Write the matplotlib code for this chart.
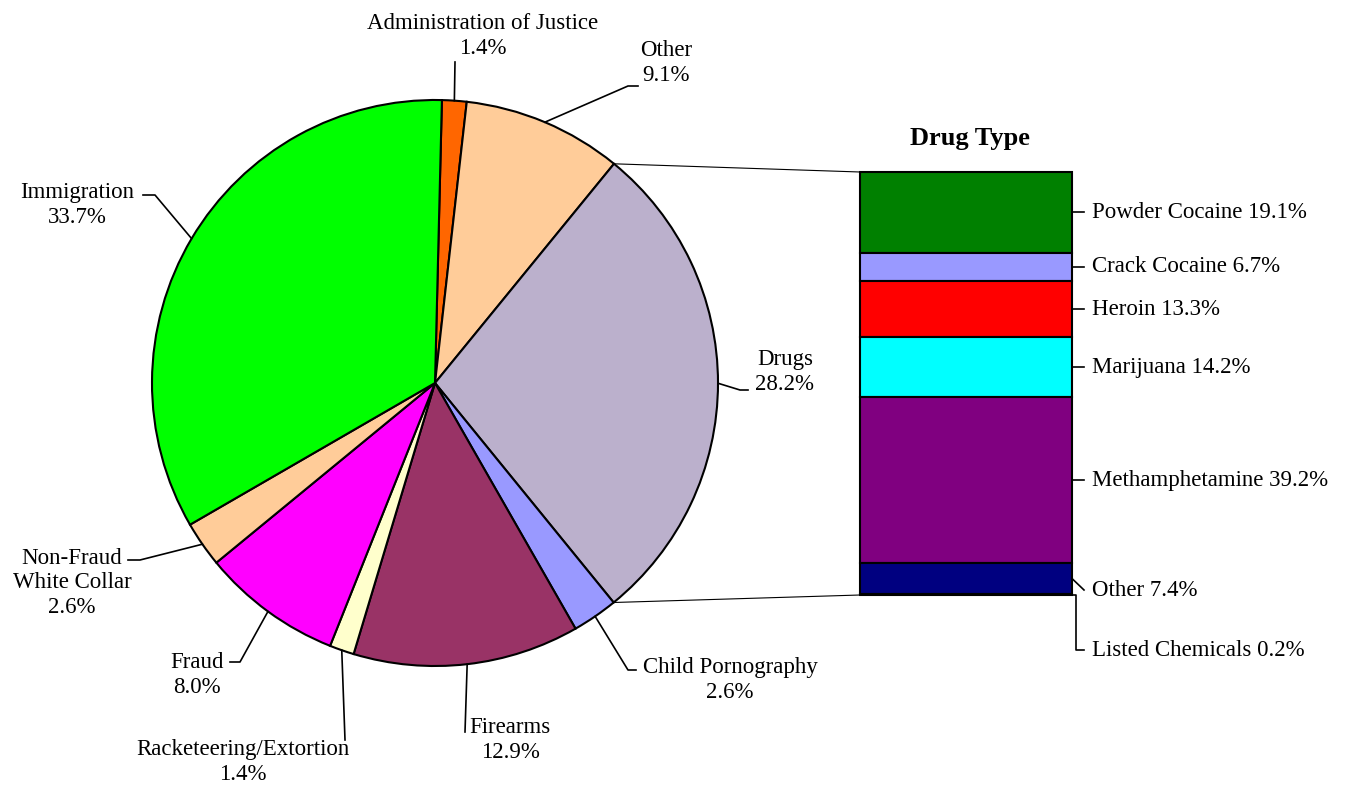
import numpy as np
import matplotlib.pyplot as plt

plt.rcParams['font.family'] = ['Liberation Serif', 'DejaVu Serif']

# offense categories, clockwise from the top
offenses = ['Administration of Justice', 'Other', 'Drugs', 'Child Pornography', 'Firearms',
            'Racketeering/Extortion', 'Fraud', 'Non-Fraud\nWhite Collar', 'Immigration']
offense_pct = [1.4, 9.1, 28.2, 2.6, 12.9, 1.4, 8.0, 2.6, 33.7]
offense_colors = ['#FF6600', '#FFCC99', '#BBB0CC', '#9999FF', '#993366',
                  '#FFFFCC', '#FF00FF', '#FFCC99', '#00FF00']

# drug types, top to bottom
drugs = ['Powder Cocaine', 'Crack Cocaine', 'Heroin', 'Marijuana', 'Methamphetamine',
         'Other', 'Listed Chemicals']
drug_pct = [19.1, 6.7, 13.3, 14.2, 39.2, 7.4, 0.2]
drug_colors = ['#008000', '#9999FF', '#FF0000', '#00FFFF', '#800080', '#000080', '#333399']

H = 790
FS = 16.5
fig = plt.figure(figsize=(13.54, 7.90), dpi=100)
ax = fig.add_axes([0, 0, 1, 1])

cx, cy, r = 435, H - 383, 283
start = 88.6
wedges, _ = ax.pie(offense_pct, colors=offense_colors, startangle=start, counterclock=False,
                   center=(cx, cy), radius=r, normalize=True,
                   wedgeprops=dict(edgecolor='black', linewidth=1.5))
ax.set_xlim(0, 1354)
ax.set_ylim(0, H)
ax.set_aspect('equal')
ax.axis('off')

tot = sum(offense_pct)
angles = []
a = start
for p in offense_pct:
    a2 = a - p / tot * 360
    angles.append((a, a2))
    a = a2

def edge(ang, rr=r):
    t = np.deg2rad(ang)
    return cx + rr * np.cos(t), cy + rr * np.sin(t)

# label layout: text center, leader path (pixel coords, wedge edge point is prepended)
layout = {
    'Administration of Justice': ((483, 36), [(455, 62)]),
    'Other': ((666, 63), [(628, 86), (638, 86)]),
    'Drugs': ((785, 372), [(740, 390), (748, 390)]),
    'Child Pornography': ((730, 680), [(628, 670), (636, 670)]),
    'Firearms': ((510, 740), [(465, 732)]),
    'Racketeering/Extortion': ((243, 762), [(345, 740)]),
    'Fraud': ((197, 675), [(240, 662), (230, 662)]),
    'Non-Fraud\nWhite Collar': ((72, 583), [(140, 560), (128, 560)]),
    'Immigration': ((77, 205), [(155, 195), (143, 195)]),
}
for name, pct, (a1, a2) in zip(offenses, offense_pct, angles):
    (tx, ty), path = layout[name]
    mid = (a1 + a2) / 2
    ex, ey = edge(mid)
    xs = [ex] + [p[0] for p in path]
    ys = [ey] + [H - p[1] for p in path]
    ax.plot(xs, ys, color='black', lw=1.2)
    ax.text(tx, H - ty, f'{name}\n{pct}%', ha='center', va='center', fontsize=FS, linespacing=1.2)

# stacked bar of drug types
bx0, bx1, btop, bbot = 860, 1072, 172, 595
scale = (bbot - btop) / sum(drug_pct)
y = H - btop
for name, pct, col in zip(drugs, drug_pct, drug_colors):
    h = pct * scale
    ax.bar(bx0, -h, width=bx1 - bx0, bottom=y, align='edge', color=col,
           edgecolor='black', linewidth=1.5)
    ym = y - h / 2
    if name == 'Listed Chemicals':
        ax.plot([bx1, bx1 + 4, bx1 + 4, bx1 + 12], [ym, ym, H - 650, H - 650], color='black', lw=1.2)
        ly = H - 650
    elif name == 'Other':
        ax.plot([bx1, bx1 + 12], [ym, H - 590], color='black', lw=1.2)
        ly = H - 590
    else:
        ax.plot([bx1, bx1 + 12], [ym, ym], color='black', lw=1.2)
        ly = ym
    ax.text(bx1 + 20, ly, f'{name} {pct}%', ha='left', va='center', fontsize=FS)
    y -= h

ax.text(970, H - 138, 'Drug Type', ha='center', va='center', fontsize=19, fontweight='bold')

# connectors from the Drugs wedge to the bar
d1, d2 = angles[2]
p1 = edge(d1)
p2 = edge(d2)
ax.plot([p1[0], bx0], [p1[1], H - btop], color='black', lw=0.8)
ax.plot([p2[0], bx0], [p2[1], H - bbot], color='black', lw=0.8)

fig.savefig('out.png', dpi=100)
